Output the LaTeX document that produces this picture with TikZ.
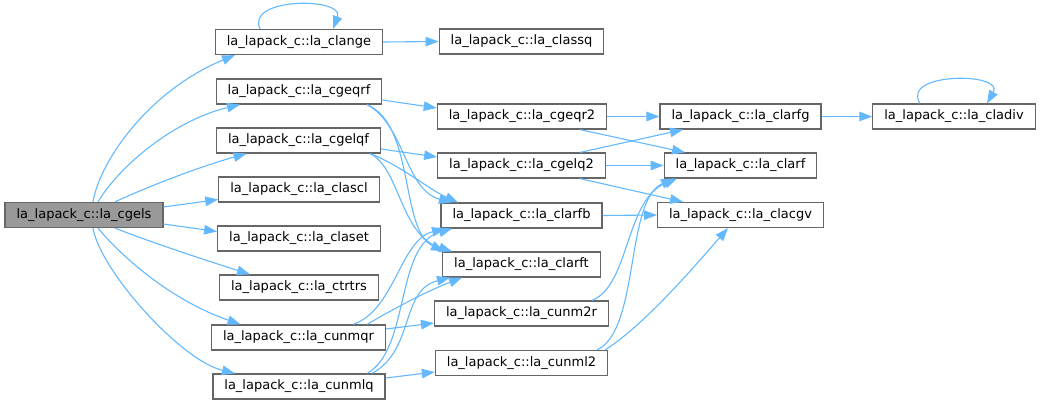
\documentclass[tikz,border=0pt]{standalone}
\usepackage{fontspec}
\setmainfont{DejaVu Sans}
\usetikzlibrary{arrows.meta}
\definecolor{edgeBlue}{HTML}{63B8FF}
\definecolor{boxBorder}{HTML}{666666}
\definecolor{rootFill}{HTML}{999999}
\newcommand{\lafn}[1]{la\_lapack\_c::la\_#1}
\tikzset{
  fnbox/.style={draw=boxBorder, fill=white, line width=1.2pt, minimum height=25pt,
                inner xsep=11.5pt, inner ysep=0pt, text height=9.5pt, text depth=3pt,
                font=\fontsize{13}{15}\selectfont},
  rootbox/.style={fnbox, fill=rootFill},
  call/.style={draw=edgeBlue, line width=1.1pt, -{Triangle[length=13pt,width=9.5pt]}}
}

\begin{document}
\begin{tikzpicture}[x=1pt, y=-1pt]
\useasboundingbox (0,0) rectangle (1041,405);

\node[rootbox] (cgels)  at (84,215)    {\lafn{cgels}};
\node[fnbox]   (clange) at (299,42)    {\lafn{clange}};
\node[fnbox]   (cgeqrf) at (299,91.5)  {\lafn{cgeqrf}};
\node[fnbox]   (cgelqf) at (298.5,140.5) {\lafn{cgelqf}};
\node[fnbox]   (clascl) at (299,189.5) {\lafn{clascl}};
\node[fnbox]   (claset) at (299,238.5) {\lafn{claset}};
\node[fnbox]   (ctrtrs) at (299,287.5) {\lafn{ctrtrs}};
\node[fnbox]   (cunmqr) at (298.5,337.5) {\lafn{cunmqr}};
\node[fnbox]   (cunmlq) at (299,386.5) {\lafn{cunmlq}};
\node[fnbox]   (classq) at (521.5,41.5) {\lafn{classq}};
\node[fnbox]   (cgeqr2) at (522,116.5) {\lafn{cgeqr2}};
\node[fnbox]   (cgelq2) at (521.5,165.5) {\lafn{cgelq2}};
\node[fnbox]   (clarfb) at (521.5,215.5) {\lafn{clarfb}};
\node[fnbox]   (clarft) at (521.5,264.5) {\lafn{clarft}};
\node[fnbox]   (cunm2r) at (521.5,313.5) {\lafn{cunm2r}};
\node[fnbox]   (cunml2) at (521.5,363)   {\lafn{cunml2}};
\node[fnbox]   (clarfg) at (740.5,116.5) {\lafn{clarfg}};
\node[fnbox]   (clarf)  at (740.5,165.5) {\lafn{clarf}};
\node[fnbox]   (clacgv) at (740.5,215)   {\lafn{clacgv}};
\node[fnbox]   (cladiv) at (954,116.5)   {\lafn{cladiv}};

% calls of la_cgels
\draw[call] ([xshift=9pt]cgels.north) .. controls (100,160) and (150,90) .. ([xshift=-64pt]clange.south);
\draw[call] ([xshift=14pt]cgels.north) .. controls (120,165) and (175,120) .. ([xshift=-59pt]cgeqrf.south);
\draw[call] ([xshift=31pt]cgels.north) .. controls (140,190) and (195,168) .. ([xshift=-52pt]cgelqf.south);
\draw[call] ([yshift=8pt]cgels.east) -- ([yshift=-10pt]clascl.west);
\draw[call] ([yshift=-9pt]cgels.east) -- ([yshift=7pt]claset.west);
\draw[call] ([xshift=31pt]cgels.south) .. controls (150,242) and (205,260) .. ([xshift=-49pt]ctrtrs.north);
\draw[call] ([xshift=14pt]cgels.south) .. controls (120,255) and (170,300) .. ([xshift=-58pt]cunmqr.north);
\draw[call] ([xshift=9pt]cgels.south) .. controls (100,270) and (180,360) .. ([xshift=-64pt]cunmlq.north);

% second column
\draw[call] ([xshift=-39pt]clange.north) .. controls (245,-3) and (345,-3) .. ([xshift=34pt]clange.north);
\draw[call] (clange.east) -- (classq.west);
\draw[call] ([yshift=-8.5pt]cgeqrf.east) -- ([yshift=8.5pt]cgeqr2.west);
\draw[call] ([xshift=68pt]cgeqrf.south) .. controls (405,125) and (405,190) .. ([xshift=-69.5pt]clarfb.north);
\draw[call] ([xshift=68pt]cgeqrf.south) .. controls (415,125) and (400,230) .. ([xshift=-77.5pt]clarft.north);
\draw[call] ([yshift=-8.5pt]cgelqf.east) -- ([yshift=8.5pt]cgelq2.west);
\draw[call] ([xshift=71.5pt]cgelqf.south) .. controls (400,165) and (430,190) .. ([xshift=-63.5pt]clarfb.north);
\draw[call] ([xshift=71.5pt]cgelqf.south) .. controls (400,168) and (400,235) .. ([xshift=-69.5pt]clarft.north);
\draw[call] ([xshift=54.5pt]cunmqr.north) .. controls (395,310) and (400,240) .. ([xshift=-76.5pt]clarfb.south);
\draw[call] ([xshift=68.5pt]cunmqr.north) .. controls (400,305) and (430,290) .. ([xshift=-59.5pt]clarft.south);
\draw[call] ([xshift=68pt]cunmlq.north) .. controls (410,350) and (395,245) .. ([xshift=-69.5pt]clarfb.south);
\draw[call] ([xshift=73pt]cunmlq.north) .. controls (415,350) and (400,290) .. ([xshift=-71.5pt]clarft.south);
\draw[call] ([yshift=8.5pt]cunmqr.east) -- ([yshift=-9.5pt]cunm2r.west);
\draw[call] ([yshift=8.5pt]cunmlq.east) -- ([yshift=-9pt]cunml2.west);

% third column
\draw[call] (cgeqr2.east) -- (clarfg.west);
\draw[call] ([xshift=58pt]cgeqr2.south) -- ([xshift=-55.5pt]clarf.north);
\draw[call] ([xshift=58.5pt]cgelq2.north) -- ([xshift=-57.5pt]clarfg.south);
\draw[call] (cgelq2.east) -- (clarf.west);
\draw[call] ([xshift=58.5pt]cgelq2.south) -- ([xshift=-57.5pt]clacgv.north);
\draw[call] (clarfb.east) -- (clacgv.west);
\draw[call] ([xshift=70.5pt]cunm2r.north) .. controls (630,285) and (625,200) .. ([xshift=-63.5pt]clarf.south);
\draw[call] ([xshift=75.5pt]cunml2.north) .. controls (640,330) and (625,200) .. ([xshift=-66.5pt]clarf.south);
\draw[call] ([xshift=83.5pt]cunml2.north) .. controls (645,325) and (700,260) .. ([xshift=-12.5pt]clacgv.south);

% last column
\draw[call] (clarfg.east) -- (cladiv.west);
\draw[call] ([xshift=-34pt]cladiv.north) .. controls (900,72) and (1005,72) .. ([xshift=33pt]cladiv.north);
\end{tikzpicture}
\end{document}
